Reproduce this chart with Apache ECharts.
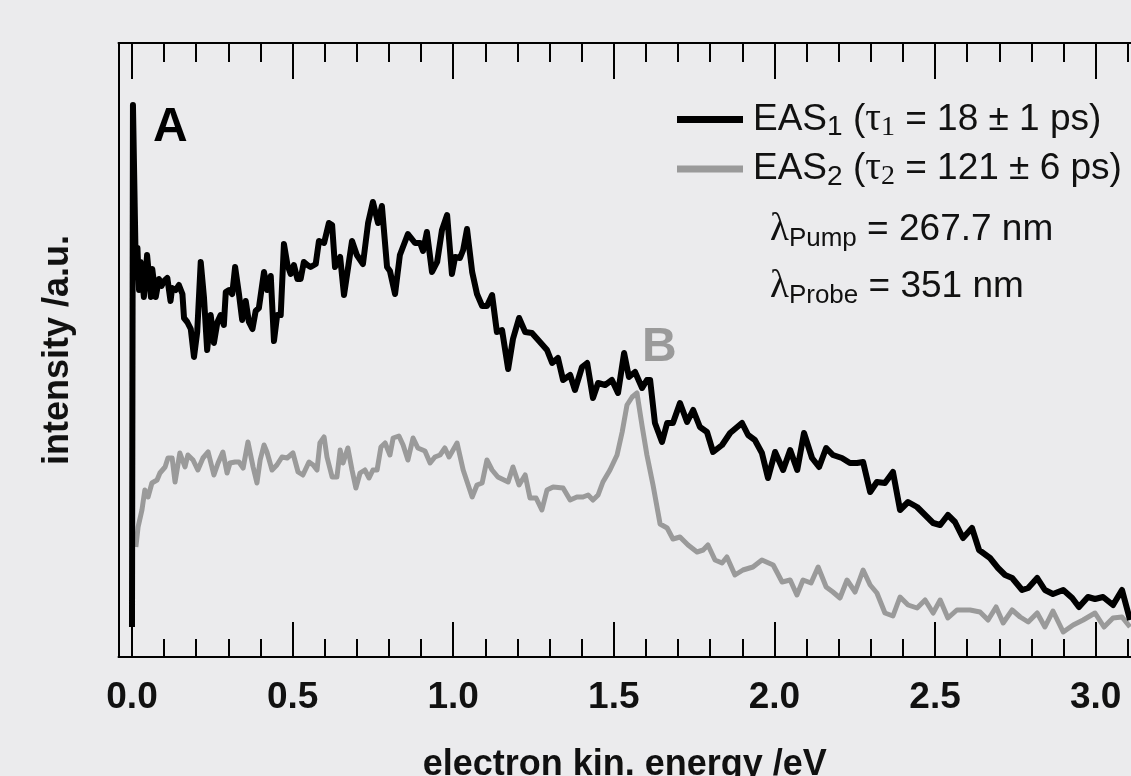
<!DOCTYPE html>
<html><head><meta charset="utf-8">
<script src="https://cdn.jsdelivr.net/npm/echarts@6/dist/echarts.min.js"></script>
<style>html,body{margin:0;padding:0;background:#ebebed}#c{width:1131px;height:776px}</style>
</head><body><div id="c"></div>
<script>
// ---- data (energy in eV, intensity in a.u.) ----
const eas1Energy = [0.000,0.003,0.012,0.017,0.022,0.027,0.037,0.047,0.059,0.063,
0.074,0.084,0.092,0.100,0.110,0.120,0.125,0.136,0.146,0.157,
0.162,0.172,0.183,0.193,0.203,0.214,0.224,0.234,0.245,0.255,
0.266,0.276,0.286,0.292,0.302,0.312,0.321,0.333,0.343,0.354,
0.364,0.375,0.385,0.395,0.411,0.421,0.432,0.442,0.452,0.463,
0.473,0.484,0.494,0.504,0.515,0.525,0.535,0.546,0.556,0.572,
0.582,0.598,0.613,0.623,0.632,0.648,0.660,0.685,0.700,0.719,
0.735,0.750,0.766,0.778,0.794,0.803,0.819,0.834,0.859,0.881,
0.897,0.906,0.918,0.934,0.950,0.965,0.981,0.996,1.006,1.021,
1.031,1.043,1.059,1.074,1.090,1.105,1.121,1.136,1.152,1.171,
1.186,1.205,1.224,1.245,1.270,1.292,1.308,1.326,1.342,1.364,
1.379,1.401,1.417,1.435,1.451,1.473,1.494,1.513,1.532,1.547,
1.566,1.588,1.603,1.613,1.628,1.650,1.666,1.684,1.706,1.728,
1.747,1.768,1.790,1.809,1.837,1.862,1.899,1.918,1.939,1.961,
1.980,2.002,2.027,2.049,2.071,2.092,2.117,2.139,2.161,2.182,
2.210,2.235,2.257,2.276,2.298,2.319,2.344,2.369,2.391,2.416,
2.444,2.494,2.516,2.540,2.562,2.587,2.615,2.637,2.671,2.696,
2.718,2.740,2.771,2.790,2.818,2.842,2.867,2.899,2.927,2.948,
2.976,2.998,3.023,3.054,3.082,3.107];
const eas1Intensity = [30,552,385,409,367,395,360,402,360,388,
360,378,371,376,379,356,369,367,372,363,
339,335,328,300,325,395,360,307,342,314,
335,342,332,365,367,363,390,363,337,356,
335,328,346,349,385,367,381,316,342,342,
413,392,383,392,378,378,395,392,390,393,
416,414,434,432,390,400,362,416,402,393,
434,455,434,451,390,386,363,402,423,414,
414,406,425,385,395,427,442,383,400,399,
407,428,385,363,351,351,362,325,327,288,
318,339,325,324,315,307,294,299,277,282,
267,290,294,259,274,272,277,264,304,280,
285,269,277,277,234,215,234,234,254,235,
247,230,225,205,212,224,234,222,217,204,
179,205,187,207,187,224,199,190,209,202,
199,194,194,195,165,175,174,185,147,155,
150,134,132,142,135,119,129,107,99,89,
82,79,67,69,79,67,63,67,59,50,
60,58,60,52,67,37];
const eas2Energy = [0.012,0.019,0.031,0.040,0.050,0.062,0.078,0.087,0.103,0.112,
0.125,0.134,0.149,0.165,0.174,0.190,0.205,0.221,0.237,0.255,
0.268,0.283,0.296,0.305,0.321,0.333,0.346,0.361,0.377,0.389,
0.399,0.411,0.420,0.436,0.451,0.467,0.483,0.501,0.517,0.532,
0.551,0.564,0.576,0.585,0.598,0.607,0.623,0.638,0.648,0.657,
0.672,0.685,0.697,0.710,0.725,0.738,0.750,0.763,0.775,0.788,
0.803,0.813,0.831,0.844,0.859,0.875,0.890,0.912,0.928,0.943,
0.959,0.974,0.987,1.012,1.031,1.059,1.074,1.090,1.105,1.121,
1.139,1.171,1.186,1.205,1.224,1.239,1.258,1.276,1.292,1.311,
1.342,1.364,1.385,1.404,1.420,1.435,1.451,1.466,1.488,1.510,
1.526,1.541,1.557,1.572,1.588,1.603,1.622,1.644,1.666,1.684,
1.706,1.731,1.759,1.778,1.793,1.815,1.837,1.852,1.877,1.902,
1.933,1.961,1.996,2.024,2.049,2.070,2.089,2.114,2.136,2.161,
2.182,2.204,2.226,2.251,2.276,2.298,2.319,2.344,2.369,2.391,
2.416,2.444,2.469,2.494,2.516,2.540,2.568,2.609,2.640,2.665,
2.690,2.712,2.740,2.765,2.790,2.818,2.842,2.867,2.899,2.930,
2.961,2.998,3.026,3.054,3.082,3.107];
const eas2Intensity = [110,130,147,167,160,174,177,184,190,199,
199,175,204,190,202,197,187,199,205,182,
194,205,184,194,195,195,189,215,190,174,
197,212,205,187,192,200,199,204,185,182,
195,192,187,214,220,200,180,180,207,194,
209,187,169,184,187,179,187,187,210,214,
202,219,221,212,197,219,209,206,194,200,
202,209,200,214,187,160,172,174,197,187,
180,175,190,172,182,159,159,147,167,170,
169,157,160,160,162,157,162,175,187,202,
225,252,260,264,231,202,172,133,129,118,
120,112,105,107,112,97,94,100,82,87,
90,97,92,75,77,62,77,74,90,70,
65,59,77,65,87,72,64,44,41,60,
52,49,57,44,57,39,47,47,45,37,
50,34,47,40,35,44,30,46,25,32,
37,44,30,39,40,30];
const majorTicks = [0.0,0.5,1.0,1.5,2.0,2.5,3.0];
const minorTicks = [0.1,0.2,0.3,0.4,0.6,0.7,0.8,0.9,1.1,1.2,1.3,1.4,1.6,1.7,1.8,1.9,2.1,2.2,2.3,2.4,2.6,2.7,2.8,2.9,3.1];
const seriesNames = ['EAS1','EAS2'];
const legendTexts = {
  EAS1: '{g| }{n|EAS}{s|1}{n| (}{t|\u03c4}{ts|1}{n| = 18 \u00b1 1 ps)}',
  EAS2: '{g| }{n|EAS}{s|2}{n| (}{t|\u03c4}{ts|2}{n| = 121 \u00b1 6 ps)}'
};
const pumpText = '{l|\u03bb}{p|Pump}{n| = 267.7 nm}';
const probeText = '{l|\u03bb}{p|Probe}{n| = 351 nm}';
const xName = 'electron kin. energy /eV';
const yName = 'intensity /a.u.';

const SANS = '"Liberation Sans", Arial, Helvetica, sans-serif';
const SERIF = '"Liberation Serif", "Times New Roman", serif';
const XMIN = -0.042, XMAX = 3.11;
const AX = '#000';

const chart = echarts.init(document.getElementById('c'), null, {renderer:'canvas'});
const zip = (a,b) => a.map((v,i)=>[v,b[i]]);
const gridBox = {left:118.5, right:0, top:43, bottom:119, outerBoundsMode:'none', containLabel:false};
const tickAxis = (gridIndex, position, values, len, showLine) => ({
  type:'value', gridIndex, position, min:XMIN, max:XMAX,
  axisLine:{show:showLine, onZero:false, lineStyle:{color:AX,width:2}},
  axisTick:{show:true, inside:true, length:len, customValues:values, lineStyle:{color:AX,width:2}},
  axisLabel:{show:false}, splitLine:{show:false}
});
const richLegend = {
  g:{width:5},
  n:{fontFamily:SANS, fontSize:37, lineHeight:44, verticalAlign:'middle', color:'#111'},
  s:{fontFamily:SANS, fontSize:28, lineHeight:24, verticalAlign:'bottom', color:'#111'},
  t:{fontFamily:SERIF, fontSize:39, lineHeight:44, verticalAlign:'middle', color:'#111'},
  ts:{fontFamily:SERIF, fontSize:28, lineHeight:22, verticalAlign:'bottom', color:'#111'}
};
const richLambda = {
  l:{fontFamily:SERIF, fontSize:39, lineHeight:44, verticalAlign:'middle', fill:'#111'},
  p:{fontFamily:SANS, fontSize:26, lineHeight:29, verticalAlign:'bottom', fill:'#111'},
  n:{fontFamily:SANS, fontSize:37, lineHeight:44, verticalAlign:'middle', fill:'#111'}
};

const bottomMajor = tickAxis(0,'bottom',majorTicks,35,true);
bottomMajor.axisLabel = {show:true, customValues:majorTicks, formatter:v=>v.toFixed(1),
  fontFamily:SANS, fontWeight:'bold', fontSize:37, color:'#111', margin:22};
bottomMajor.name = xName; bottomMajor.nameLocation = 'middle'; bottomMajor.nameGap = 90;
bottomMajor.nameTextStyle = {fontFamily:SANS, fontWeight:'bold', fontSize:36, color:'#111'};

chart.setOption({
  animation:false,
  backgroundColor:'#ebebed',
  grid:[Object.assign({}, gridBox), Object.assign({}, gridBox)],
  xAxis:[
    bottomMajor,
    tickAxis(0,'top',majorTicks,36,true),
    tickAxis(1,'bottom',minorTicks,18,false),
    tickAxis(1,'top',minorTicks,19,false)
  ],
  yAxis:[
    {type:'value', gridIndex:0, min:0, max:614, axisLine:{show:true, onZero:false, lineStyle:{color:AX,width:2}},
     axisTick:{show:false}, axisLabel:{show:false}, splitLine:{show:false},
     name:yName, nameLocation:'middle', nameGap:42,
     nameTextStyle:{fontFamily:SANS, fontWeight:'bold', fontSize:36, color:'#111'}},
    {type:'value', gridIndex:1, min:0, max:614, show:false, axisLine:{onZero:false}, splitLine:{show:false}}
  ],
  legend:{
    orient:'vertical', left:672, top:95, itemWidth:66, itemHeight:7, itemGap:8,
    icon:'rect', selectedMode:false, data:seriesNames,
    formatter:name=>legendTexts[name],
    textStyle:{rich:richLegend}
  },
  series:[
    {name:seriesNames[1], type:'line', xAxisIndex:0, yAxisIndex:0, data:zip(eas2Energy,eas2Intensity),
     showSymbol:false, symbol:'none', color:'#9a9a9a',
     lineStyle:{color:'#9a9a9a', width:5, join:'round'}},
    {name:seriesNames[0], type:'line', xAxisIndex:0, yAxisIndex:0, data:zip(eas1Energy,eas1Intensity),
     showSymbol:false, symbol:'none', color:'#000',
     lineStyle:{color:'#000', width:6, join:'round'}}
  ],
  graphic:[
    {type:'text', x:153, y:127.5, style:{text:'A', fontFamily:SANS, fontWeight:'bold', fontSize:48, fill:'#000', verticalAlign:'middle'}},
    {type:'text', x:642, y:347.5, style:{text:'B', fontFamily:SANS, fontWeight:'bold', fontSize:48, fill:'#9a9a9a', verticalAlign:'middle'}},
    {type:'text', x:770, y:229.5, style:{text:pumpText, rich:richLambda, verticalAlign:'middle'}},
    {type:'text', x:770, y:286.5, style:{text:probeText, rich:richLambda, verticalAlign:'middle'}}
  ]
});
</script></body></html>
